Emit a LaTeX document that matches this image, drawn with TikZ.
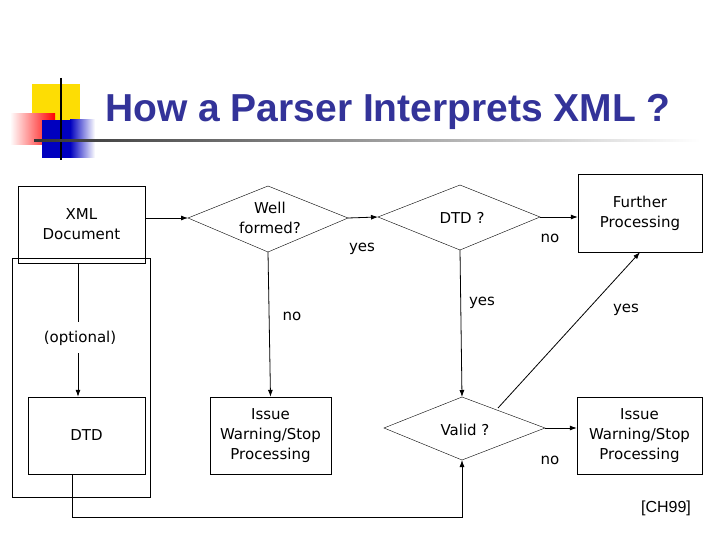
\documentclass[tikz,border=0pt]{standalone}
\usepackage{fontspec}
\setmainfont{DejaVu Sans}
\newfontfamily\arialf{Liberation Sans}
\usetikzlibrary{shapes.geometric,arrows.meta}
\definecolor{titleblue}{HTML}{333399}
\begin{document}
\begin{tikzpicture}[x=1pt,y=-1pt,
  lbl/.style={font=\fontsize{15}{20}\selectfont,align=center},
  box/.style={draw,thin},
  dia/.style={draw,thin},
  arr/.style={thick,-{Latex[length=7pt,width=5pt]}}]
\useasboundingbox[fill=white] (0,0) rectangle (720,540);
% logo
\fill[yellow!80!orange] (32,84) rectangle (80,130);
\shade[left color=white,right color=red] (10,114) rectangle (55,145);
\fill[blue!75!black] (42,120) rectangle (70,158);
\shade[left color=blue!75!black,right color=white] (70,120) rectangle (95,158);
\draw[very thick] (61,78) -- (61,160);
\shade[left color=black!80,right color=white] (34,139.5) rectangle (700,142);
\node[font=\arialf\bfseries\fontsize{39}{42}\selectfont,text=titleblue] (title) at (388,112) {How a Parser Interprets XML ?};
% nodes
\node[box,minimum width=127,minimum height=77,lbl] (xml) at (81.5,224.5) {XML\\Document};
\node[box,minimum width=138,minimum height=239] (outer) at (81,377.5) {};
\node[lbl] (opt) at (80,338) {(optional)};
\node[box,minimum width=117,minimum height=77,lbl] (dtd) at (86.5,435.5) {DTD};
\coordinate (wl) at (188,218); \coordinate (wr) at (348,218);
\coordinate (wt) at (268,186); \coordinate (wb) at (268,252);
\draw[dia] (wl) -- (wt) -- (wr) -- (wb) -- cycle;
\node[lbl] (wf) at (270,218) {Well\\formed?};
\coordinate (dl) at (378,217); \coordinate (dr) at (540,217);
\coordinate (dt) at (460,185); \coordinate (db) at (460,250);
\draw[dia] (dl) -- (dt) -- (dr) -- (db) -- cycle;
\node[lbl] (dq) at (462,218) {DTD ?};
\coordinate (vl) at (384,428); \coordinate (vr) at (545,428);
\coordinate (vt) at (462,397); \coordinate (vb) at (462,460);
\draw[dia] (vl) -- (vt) -- (vr) -- (vb) -- cycle;
\node[lbl] (vq) at (465,430) {Valid ?};
\node[box,minimum width=121,minimum height=77,lbl] (iss1) at (270.5,435.5) {Issue\\Warning/Stop\\Processing};
\node[box,minimum width=124,minimum height=78,lbl] (fur) at (640,213) {Further\\Processing};
\node[box,minimum width=125,minimum height=77,lbl] (iss2) at (639.5,435.5) {Issue\\Warning/Stop\\Processing};
% connectors
\draw[thin] (78,263) -- (78,322);
\draw[arr] (78,353) -- (dtd.north -| 78,0);
\draw[arr] (xml.east |- 0,218) -- (wl);
\draw[arr] (wr) -- (dl);
\draw[arr] (wb) -- (iss1.north);
\draw[arr] (db) -- (vt);
\draw[arr] (dr) -- (fur.west |- 0,217);
\draw[arr] (498,408) -- (fur.south);
\draw[arr] (vr) -- (iss2.west |- 0,428);
\coordinate (c1) at (72,517);
\draw[arr] (dtd.south -| 72,0) -- (c1) -- (462,517) -- (vb);
% labels
\node[lbl] (y1) at (362,249) {yes};
\node[lbl] (n1) at (292,316) {no};
\node[lbl] (y2) at (482,303) {yes};
\node[lbl] (n2) at (550,238) {no};
\node[lbl] (y3) at (626,310) {yes};
\node[lbl] (n3) at (550,460) {no};
\node[font=\arialf\fontsize{16}{18}\selectfont] (ref) at (666,508) {[CH99]};
\end{tikzpicture}
\end{document}
